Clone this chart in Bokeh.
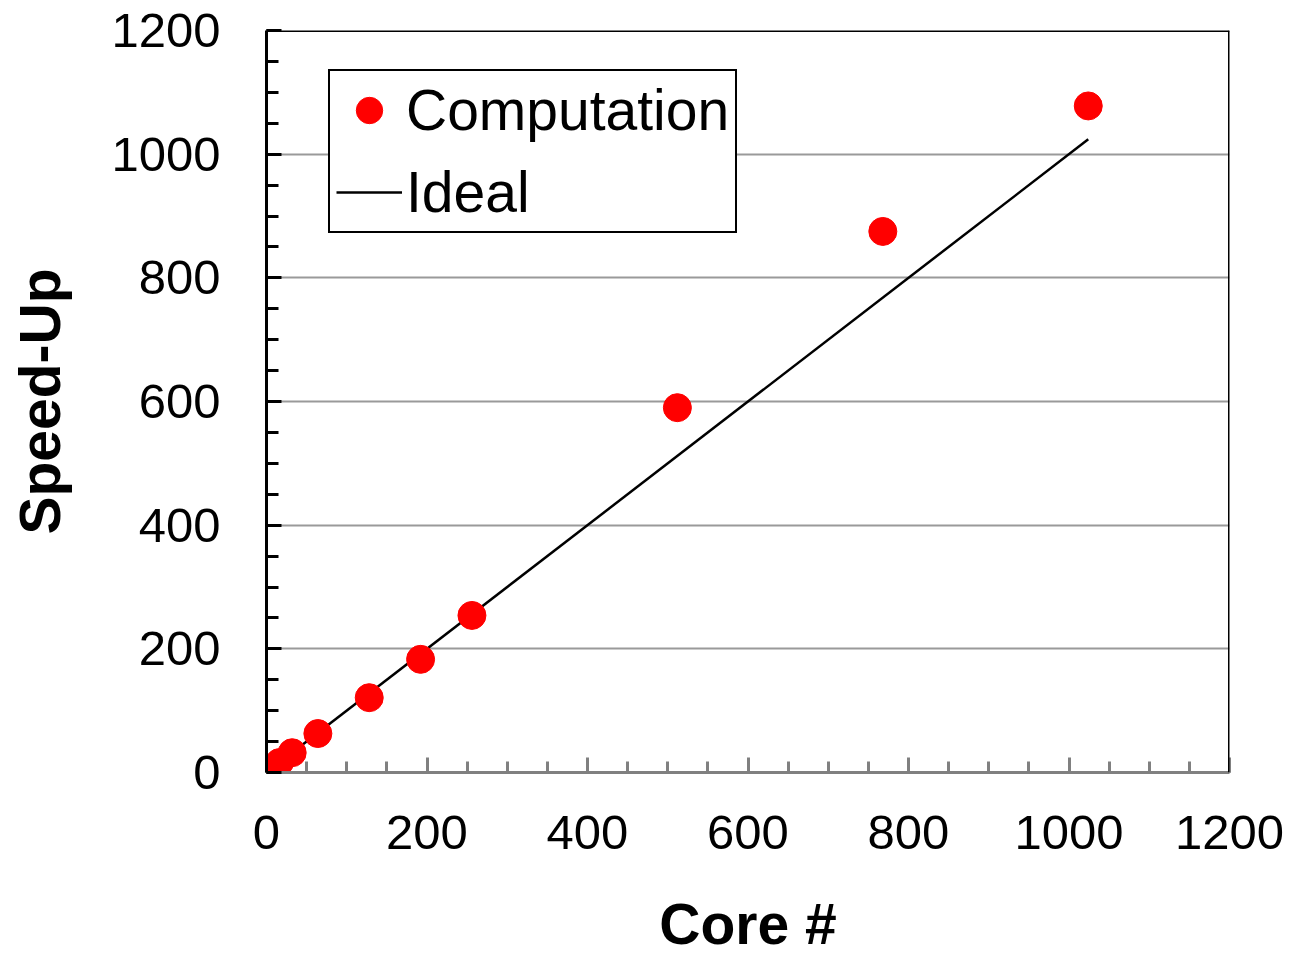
from bokeh.plotting import figure
from bokeh.models import Range1d, FixedTicker, Legend, LegendItem, Span
from bokeh.embed import file_html
from bokeh.resources import INLINE

cores = [16, 32, 64, 128, 192, 256, 512, 768, 1024]
speedup = [16, 32, 63, 121, 183, 254, 590, 875, 1078]
ideal_x = [16, 1024]
ideal_y = [16, 1024]
major_ticks = [0, 200, 400, 600, 800, 1000, 1200]
minor_ticks = list(range(0, 1201, 50))
x_lo, x_hi = 0, 1200
y_lo, y_hi = 0, 1200

FONT = "Liberation Sans"

p = figure(width=1284, height=958, output_backend="svg", toolbar_location=None,
           x_range=Range1d(x_lo, x_hi), y_range=Range1d(y_lo, y_hi),
           min_border_left=266, min_border_top=30, min_border_right=55, min_border_bottom=186)
p.outline_line_color = None
p.background_fill_color = "white"
p.border_fill_color = "white"

r_line = p.line(ideal_x, ideal_y, line_color="black", line_width=2.5)
r_pts = p.scatter(cores, speedup, size=28, fill_color="#FF0000", line_color="#FF0000")

# grid
p.xgrid.visible = False
p.ygrid.ticker = FixedTicker(ticks=major_ticks)
p.ygrid.grid_line_color = "#9a9a9a"
p.ygrid.grid_line_width = 2

# x axis
xa = p.xaxis[0]
xa.ticker = FixedTicker(ticks=major_ticks, minor_ticks=minor_ticks)
xa.axis_line_color = "#808080"
xa.axis_line_width = 3
xa.major_tick_line_color = "#808080"
xa.minor_tick_line_color = "#808080"
xa.major_tick_line_width = 3
xa.minor_tick_line_width = 3
xa.major_tick_in = 15
xa.major_tick_out = 0
xa.minor_tick_in = 11
xa.minor_tick_out = 0
xa.major_label_text_font = FONT
xa.major_label_text_font_size = "49px"
xa.major_label_text_color = "black"
xa.major_label_standoff = 43
xa.axis_label = "Core #"
xa.axis_label_text_font = FONT
xa.axis_label_text_font_size = "57px"
xa.axis_label_text_font_style = "bold"
xa.axis_label_text_color = "black"
xa.axis_label_standoff = 40

# y axis
ya = p.yaxis[0]
ya.ticker = FixedTicker(ticks=major_ticks, minor_ticks=minor_ticks)
ya.axis_line_color = "black"
ya.axis_line_width = 3
ya.major_tick_line_color = "black"
ya.minor_tick_line_color = "black"
ya.major_tick_line_width = 3
ya.minor_tick_line_width = 3
ya.major_tick_in = 15
ya.major_tick_out = 0
ya.minor_tick_in = 12
ya.minor_tick_out = 0
ya.major_label_text_font = FONT
ya.major_label_text_font_size = "49px"
ya.major_label_text_color = "black"
ya.major_label_standoff = 46
ya.axis_label = "Speed-Up"
ya.axis_label_text_font = FONT
ya.axis_label_text_font_size = "57px"
ya.axis_label_text_font_style = "bold"
ya.axis_label_text_color = "black"
ya.axis_label_standoff = 36

# top and right border
p.add_layout(Span(location=y_hi, dimension="width", line_color="black", line_width=3))
p.add_layout(Span(location=x_hi, dimension="height", line_color="black", line_width=3))

legend = Legend(items=[LegendItem(label="Computation", renderers=[r_pts]),
                       LegendItem(label="Ideal", renderers=[r_line])],
                location=(62, 539))
legend.label_text_font = FONT
legend.label_text_font_size = "57px"
legend.label_text_color = "black"
legend.border_line_color = "black"
legend.border_line_alpha = 1
legend.border_line_width = 2
legend.background_fill_alpha = 1
legend.glyph_width = 66
legend.glyph_height = 66
legend.label_height = 66
legend.label_standoff = 4
legend.spacing = 16
legend.padding = 6
legend.margin = 0
p.add_layout(legend, "center")

open("out.html", "w").write(file_html(p, INLINE))
